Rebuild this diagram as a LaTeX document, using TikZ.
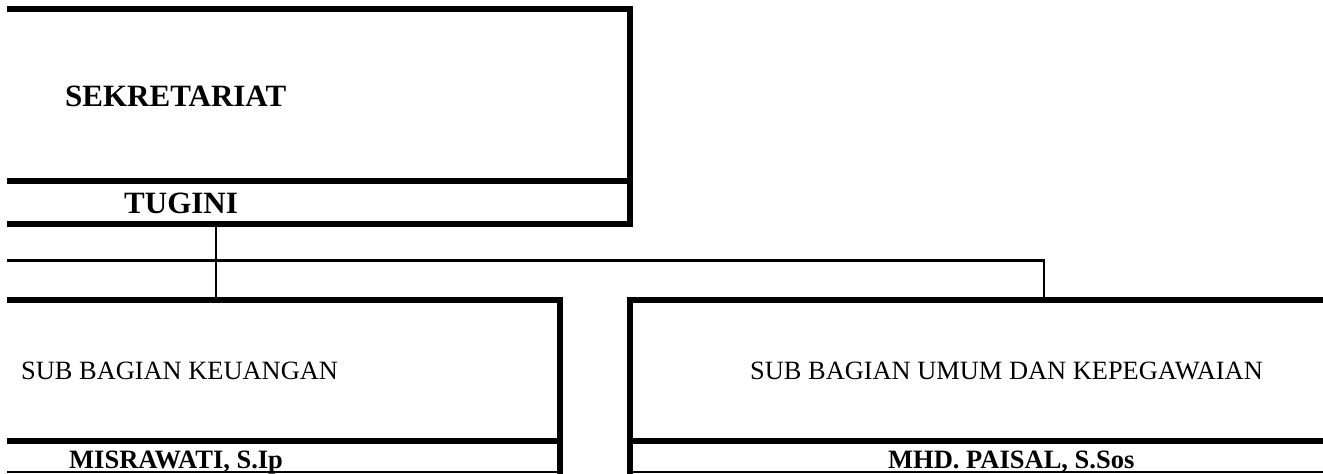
\documentclass[tikz,border=0pt]{standalone}
\usepackage{fontspec}
\setmainfont{Liberation Serif}

\begin{document}
\begin{tikzpicture}[x=1pt, y=-1pt, line join=miter,
    box/.style={line width=5.5pt},
    link/.style={line width=2.8pt},
    baseline rule/.style={line width=1.4pt},
    head/.style={anchor=base west, inner sep=0pt, font=\fontsize{31}{37}\selectfont\bfseries},
    unit/.style={anchor=base west, inner sep=0pt, font=\fontsize{26.4}{32}\selectfont},
    chief/.style={anchor=base west, inner sep=0pt, font=\fontsize{26.5}{32}\selectfont\bfseries}]

    \useasboundingbox (0,0) rectangle (1323,474);

    % Definice poloh
    \def\xL{7}      % levy okraj car
    \def\xTop{630}  % prava hrana sekretariatu
    \def\xKeu{560}  % prava hrana keuangan
    \def\xUmum{630} % leva hrana umum
    \def\xR{1323}

    % 1. Sekretariat (nahore)
    \coordinate (sek-tl) at (\xL,9);
    \coordinate (sek-tr) at (\xTop,9);
    \coordinate (sek-br) at (\xTop,224);
    \coordinate (sek-bl) at (\xL,224);
    \draw[box] (sek-tl) -- (sek-tr) -- (sek-br) -- (sek-bl);
    \draw[box] (\xL,181) -- (\xTop,181);
    \node[head] (sek) at (65,106) {SEKRETARIAT};
    \node[head] (tugini) at (124,213) {TUGINI};

    % 2. Sub bagian (dole)
    \coordinate (keu-tl) at (\xL,300);
    \coordinate (keu-tr) at (\xKeu,300);
    \coordinate (keu-br) at (\xKeu,474);
    \draw[box] (keu-tl) -- (keu-tr) -- (keu-br);
    \draw[box] (\xL,441) -- (\xKeu,441);
    \draw[baseline rule] (\xL,472) -- (\xKeu,472);

    \coordinate (umum-tr) at (\xR,300);
    \coordinate (umum-tl) at (\xUmum,300);
    \coordinate (umum-bl) at (\xUmum,474);
    \draw[box] (umum-tr) -- (umum-tl) -- (umum-bl);
    \draw[box] (\xUmum,441) -- (\xR,441);
    \draw[baseline rule] (\xUmum,472) -- (\xR,472);

    \node[unit] (keu) at (21,379) {SUB BAGIAN KEUANGAN};
    \node[chief] (misrawati) at (69,468) {MISRAWATI, S.Ip};
    \node[unit] (umum) at (750,379) {SUB BAGIAN UMUM DAN KEPEGAWAIAN};
    \node[chief] (paisal) at (888,468) {MHD. PAISAL, S.Sos};

    % 3. Spojnice
    \coordinate (drop-top) at (216,224);
    \coordinate (drop-keu) at (216,300);
    \coordinate (bus-l) at (\xL,260.5);
    \coordinate (bus-r) at (1044,260.5);
    \coordinate (drop-umum) at (1044,300);
    \draw[link] (drop-top) -- (drop-keu);
    \draw[link] (bus-l) -- (bus-r) -- (drop-umum);

\end{tikzpicture}
\end{document}
